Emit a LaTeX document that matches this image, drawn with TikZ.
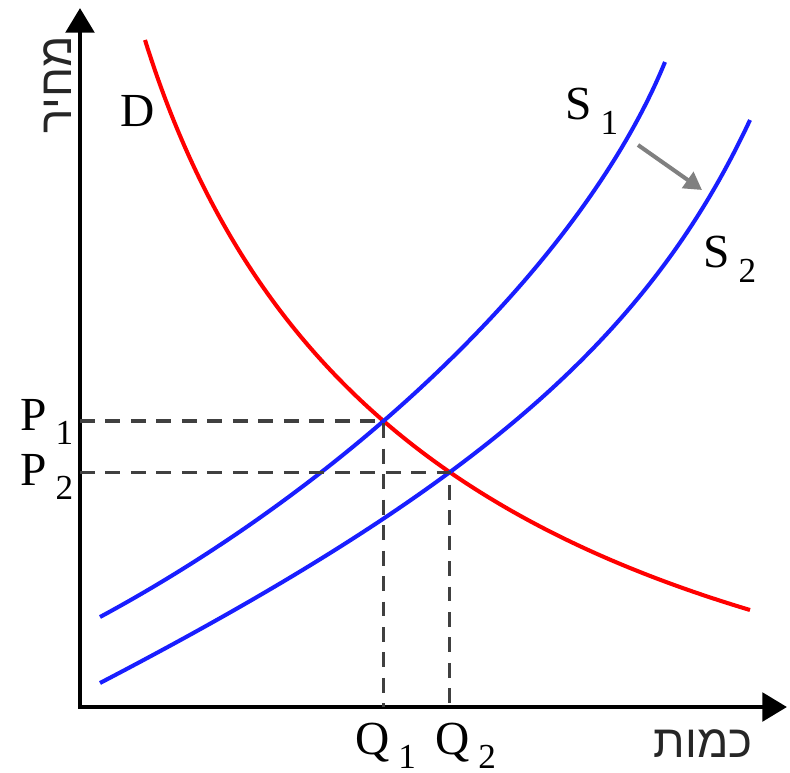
\documentclass[tikz,border=0pt]{standalone}
\usepackage{fontspec}
\setmainfont{Liberation Serif}
\newfontfamily\hebfont[Script=Hebrew]{Liberation Sans}
\TeXXeTstate=1
\usetikzlibrary{arrows.meta, intersections}
\definecolor{curvered}{RGB}{255,0,0}
\definecolor{curveblue}{RGB}{25,30,255}
\definecolor{shiftgray}{RGB}{128,128,128}
\tikzset{
  axis/.style={line width=2.8pt, {Triangle[length=14pt,width=16pt]}-{Triangle[length=14pt,width=16pt]}},
  demand/.style={draw=curvered, line width=2.3pt},
  supply/.style={draw=curveblue, line width=2.3pt},
  guide/.style={draw=black!75, line width=1.9pt, dash pattern=on 8.5pt off 6pt},
  shiftarrow/.style={draw=shiftgray, line width=2.3pt, -{Triangle[length=10pt,width=11pt]}},
  lbl/.style={font=\fontsize{27}{30}\selectfont, anchor=base west, inner sep=0pt},
  heb/.style={font=\hebfont\fontsize{26}{30}\selectfont, text=black!85, inner sep=0pt}
}
\newcommand{\lowsub}[1]{\hspace{5pt}\raisebox{-8pt}{\fontsize{20}{20}\selectfont #1}}

\begin{document}
\begin{tikzpicture}[x=0.02cm, y=-0.02cm]
  \useasboundingbox (0,0) rectangle (790,773);

  % Axes
  \coordinate (O) at (80,707);
  \coordinate (ytop) at (80,8);
  \coordinate (xend) at (787,707);
  \draw[axis] (ytop) -- (O) -- (xend);

  % Demand and supply curves
  \draw[demand, name path=D] (145,40) .. controls (245,360) and (450,520) .. (750,610);
  \draw[supply, name path=S1] (100,617) .. controls (352,481) and (583,262) .. (665,62);
  \draw[supply, name path=S2] (100,683) .. controls (478,486) and (648,338) .. (750,120);

  % Equilibrium points
  \path[name intersections={of=D and S1, by=E1}];
  \path[name intersections={of=D and S2, by=E2}];
  \draw[guide] (E1 -| O) -- (E1) -- (E1 |- O);
  \draw[guide] (E2 -| O) -- (E2) -- (E2 |- O);

  % Supply shift
  \coordinate (shiftA) at (638,145);
  \coordinate (shiftB) at (702,190);
  \draw[shiftarrow] (shiftA) -- (shiftB);

  % Labels
  \node[lbl] (labD) at (120,127) {D};
  \node[lbl] (labS1) at (565,120) {S\lowsub{1}};
  \node[lbl] (labS2) at (703,268) {S\lowsub{2}};
  \node[lbl] (labP1) at (20,430) {P\lowsub{1}};
  \node[lbl] (labP2) at (20,485) {P\lowsub{2}};
  \node[lbl] (labQ1) at (355,754) {Q\lowsub{1}};
  \node[lbl] (labQ2) at (435,754) {Q\lowsub{2}};
  \node[heb, anchor=base east] (labQty) at (753,757) {\beginR כמות\endR};
  \node[heb, rotate=90] (labPrice) at (58,85) {\beginR מחיר\endR};
\end{tikzpicture}
\end{document}
